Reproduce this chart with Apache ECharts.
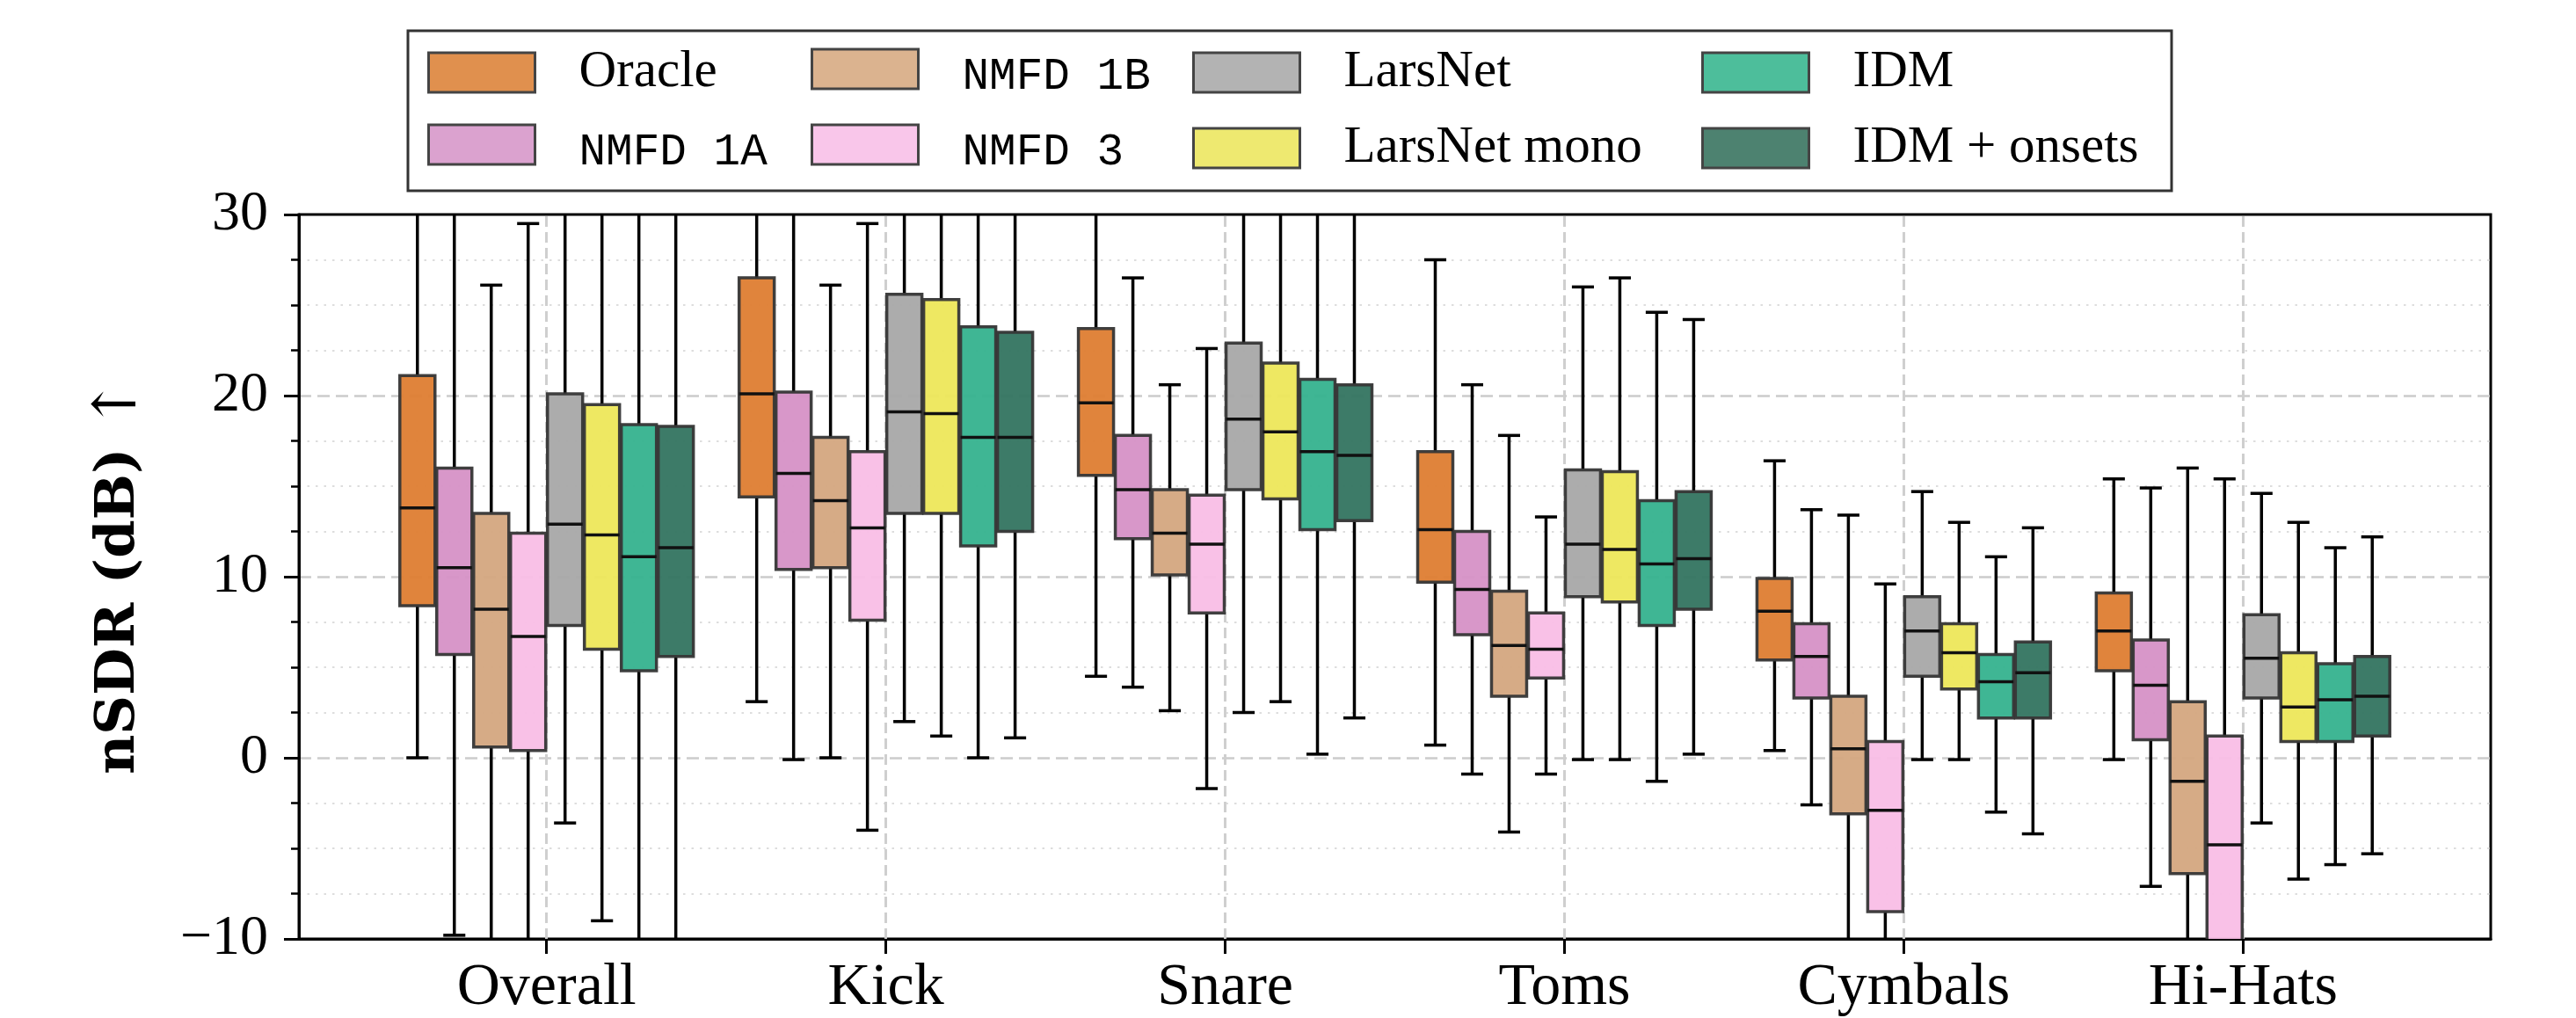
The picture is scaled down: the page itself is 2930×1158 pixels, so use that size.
<!DOCTYPE html>
<html>
<head>
<meta charset="utf-8">
<script src="https://cdn.jsdelivr.net/npm/echarts@6/dist/echarts.min.js"></script>
<style>
html,body{margin:0;padding:0;background:#fff;}
#main{width:2930px;height:1158px;}
</style>
</head>
<body>
<div id="main"></div>
<script>
// categories on the x axis
var categories = ['Overall', 'Kick', 'Snare', 'Toms', 'Cymbals', 'Hi-Hats'];
var methods = ['Oracle', 'NMFD 1A', 'NMFD 1B', 'NMFD 3', 'LarsNet', 'LarsNet mono', 'IDM', 'IDM + onsets'];
var monoNames = ['NMFD 1A', 'NMFD 1B', 'NMFD 3'];
var yTicks = [-10, 0, 10, 20, 30];

// each row: [lower whisker, Q1, median, Q3, upper whisker] (dB), one row per category
var oracle = [
	[0.0, 8.4, 13.8, 21.1, 34],
	[3.1, 14.4, 20.1, 26.5, 36],
	[4.5, 15.6, 19.6, 23.7, 33],
	[0.7, 9.7, 12.6, 16.9, 27.5],
	[0.4, 5.4, 8.1, 9.9, 16.4],
	[-0.1, 4.8, 7.0, 9.1, 15.4]
];
var nmfd1a = [
	[-9.8, 5.7, 10.5, 16.0, 36],
	[-0.1, 10.4, 15.7, 20.2, 35],
	[3.9, 12.1, 14.8, 17.8, 26.5],
	[-0.9, 6.8, 9.3, 12.5, 20.6],
	[-2.6, 3.3, 5.6, 7.4, 13.7],
	[-7.1, 1.0, 4.0, 6.5, 14.9]
];
var nmfd1b = [
	[-20, 0.6, 8.2, 13.5, 26.1],
	[0.0, 10.5, 14.2, 17.7, 26.1],
	[2.6, 10.1, 12.4, 14.8, 20.6],
	[-4.1, 3.4, 6.2, 9.2, 17.8],
	[-12, -3.1, 0.5, 3.4, 13.4],
	[-16, -6.4, -1.3, 3.1, 16.0]
];
var nmfd3 = [
	[-22, 0.4, 6.7, 12.4, 29.5],
	[-4.0, 7.6, 12.7, 16.9, 29.5],
	[-1.7, 8.0, 11.8, 14.5, 22.6],
	[-0.9, 4.4, 6.0, 8.0, 13.3],
	[-14, -8.5, -2.9, 0.9, 9.6],
	[-25, -13, -4.8, 1.2, 15.4]
];
var larsnet = [
	[-3.6, 7.3, 12.9, 20.1, 36],
	[2.0, 13.5, 19.1, 25.6, 38],
	[2.5, 14.8, 18.7, 22.9, 34],
	[-0.1, 8.9, 11.8, 15.9, 26.0],
	[-0.1, 4.5, 7.0, 8.9, 14.7],
	[-3.6, 3.3, 5.5, 7.9, 14.6]
];
var larsnetMono = [
	[-9.0, 6.0, 12.3, 19.5, 36],
	[1.2, 13.5, 19.0, 25.3, 38],
	[3.1, 14.3, 18.0, 21.8, 33],
	[-0.1, 8.6, 11.5, 15.8, 26.5],
	[-0.1, 3.8, 5.8, 7.4, 13.0],
	[-6.7, 0.9, 2.8, 5.8, 13.0]
];
var idm = [
	[-17, 4.8, 11.1, 18.4, 36],
	[0.0, 11.7, 17.7, 23.8, 36],
	[0.2, 12.6, 16.9, 20.9, 32],
	[-1.3, 7.3, 10.7, 14.2, 24.6],
	[-3.0, 2.2, 4.2, 5.7, 11.1],
	[-5.9, 0.9, 3.2, 5.2, 11.6]
];
var idmOnsets = [
	[-15, 5.6, 11.6, 18.3, 36],
	[1.1, 12.5, 17.7, 23.5, 36],
	[2.2, 13.1, 16.7, 20.6, 32],
	[0.2, 8.2, 11.0, 14.7, 24.2],
	[-4.2, 2.2, 4.7, 6.4, 12.7],
	[-5.3, 1.2, 3.4, 5.6, 12.2]
];
var allData = [oracle, nmfd1a, nmfd1b, nmfd3, larsnet, larsnetMono, idm, idmOnsets];

var boxColors = ['#DE7D32', '#D691C6', '#D4A67F', '#F9BEE6', '#A8A8A8', '#EDE75A', '#35B28E', '#337460'];
var legendColors = ['#E0904E', '#DBA2CF', '#DBB38F', '#F9C6EA', '#B3B3B3', '#EEE970', '#4DBE9B', '#4D8270'];

var SERIF = '"Liberation Serif", "DejaVu Serif", serif';
var MONO = '"Liberation Mono", "DejaVu Sans Mono", monospace';
var STEP = 0.1088;   // distance between boxes in one group
var BOX_W = 0.1036;
var CAP_W = 0.065;

function makeRender(idx){
	var offset = (idx - 3.5) * STEP;
	return function(params, api){
		var x = api.value(0) + offset;
		var low = api.coord([x, api.value(1)]);
		var q1 = api.coord([x, api.value(2)]);
		var med = api.coord([x, api.value(3)]);
		var q3 = api.coord([x, api.value(4)]);
		var high = api.coord([x, api.value(5)]);
		var bw = api.size([BOX_W, 0])[0];
		var cw = api.size([CAP_W, 0])[0];
		var cx = low[0];
		var wStyle = {stroke:'#000', lineWidth:3.5};
		return {
			type:'group',
			children:[
				{type:'line', shape:{x1:cx, y1:q1[1], x2:cx, y2:low[1]}, style:wStyle},
				{type:'line', shape:{x1:cx, y1:q3[1], x2:cx, y2:high[1]}, style:wStyle},
				{type:'line', shape:{x1:cx-cw/2, y1:low[1], x2:cx+cw/2, y2:low[1]}, style:wStyle},
				{type:'line', shape:{x1:cx-cw/2, y1:high[1], x2:cx+cw/2, y2:high[1]}, style:wStyle},
				{type:'rect', shape:{x:cx-bw/2, y:q3[1], width:bw, height:q1[1]-q3[1]},
					style:{fill:boxColors[idx], stroke:'#363636', lineWidth:3.5, opacity:0.95}},
				{type:'line', shape:{x1:cx-bw/2, y1:med[1], x2:cx+bw/2, y2:med[1]}, style:{stroke:'#111', lineWidth:3.5}}
			]
		};
	};
}

var series = [];
//竖向虚线 (vertical dashed grid at each category)
series.push({
	type:'line',
	data:[],
	silent:true,
	markLine:{
		z:1,
		silent:true,
		symbol:['none','none'],
		label:{show:false},
		lineStyle:{color:'#cfcfcf', type:[12,6], width:3},
		data:categories.map(function(c, i){ return {xAxis:i}; })
	}
});
for(var i=0;i<methods.length;i++){
	series.push({
		name:methods[i],
		type:'custom',
		z:2,
		clip:true,
		color:boxColors[i],
		renderItem:makeRender(i),
		encode:{x:0, y:[1,2,3,4,5]},
		data:allData[i].map(function(row, ci){ return [ci].concat(row); })
	});
}

// legend: 4 columns x 2 rows (column-major), one legend per entry
var colLefts = [486, 922, 1356, 1935];
var rowTops = [53, 139];
var legends = [];
for(var k=0;k<methods.length;k++){
	var isMono = monoNames.indexOf(methods[k]) >= 0;
	legends.push({
		left:colLefts[Math.floor(k/2)],
		top:rowTops[k%2] - (isMono ? 9 : 0),
		padding:0,
		itemWidth:121,
		itemHeight:45,
		icon:'rect',
		selectedMode:false,
		data:[{name:methods[k], itemStyle:{color:legendColors[k], borderColor:'#444', borderWidth:3}}],
		formatter:function(name){
			return monoNames.indexOf(name) >= 0 ? '{m|' + name + '}' : '{s|' + name + '}';
		},
		textStyle:{
			padding:[0,0,0,45],
			rich:{
				m:{fontFamily:MONO, fontSize:51, color:'#000', lineHeight:45, padding:[18,0,0,0]},
				s:{fontFamily:SERIF, fontSize:59, color:'#000', lineHeight:45}
			}
		}
	});
}

var chart = echarts.init(document.getElementById('main'));
var option = {
	backgroundColor:'#fff',
	animation:false,
	grid:{left:340, right:97, top:244, bottom:90, show:true, borderColor:'#000', borderWidth:3, backgroundColor:'transparent'},
	legend:legends,
	graphic:[{
		type:'rect',
		z:0,
		shape:{x:464, y:35, width:2006, height:182},
		style:{fill:'#fff', stroke:'#333', lineWidth:3}
	}],
	xAxis:{
		type:'value',
		min:-0.73,
		max:5.73,
		axisLine:{show:true, onZero:false, lineStyle:{color:'#000', width:3}},
		axisTick:{show:true, customValues:[0,1,2,3,4,5], length:17, lineStyle:{color:'#000', width:3}},
		axisLabel:{
			customValues:[0,1,2,3,4,5],
			margin:22,
			fontFamily:SERIF,
			fontSize:68,
			color:'#000',
			formatter:function(v){ return categories[Math.round(v)]; }
		},
		splitLine:{show:false}
	},
	yAxis:{
		type:'value',
		min:yTicks[0],
		max:yTicks[yTicks.length-1],
		interval:10,
		name:'{b|nSDR (dB)} {a|↑}',
		nameLocation:'middle',
		nameRotate:90,
		nameGap:170,
		nameTextStyle:{
			fontFamily:'DejaVu Serif',
			fontWeight:'bold',
			fontSize:62,
			rich:{
				b:{fontFamily:'DejaVu Serif', fontSize:62, fontWeight:'bold', color:'#000'},
				a:{fontFamily:'DejaVu Serif', fontSize:68, fontWeight:'normal', color:'#000'}
			}
		},
		axisLine:{show:true, onZero:false, lineStyle:{color:'#000', width:3}},
		axisTick:{show:true, length:17, lineStyle:{color:'#000', width:3}},
		minorTick:{show:true, splitNumber:4, length:9, lineStyle:{color:'#000', width:2.5}},
		axisLabel:{
			margin:35,
			fontFamily:SERIF,
			fontSize:64,
			color:'#000',
			formatter:function(v){ return v < 0 ? '\u2212' + Math.abs(v) : String(v); }
		},
		splitLine:{show:true, showMinLine:false, showMaxLine:false, lineStyle:{color:'#cccccc', type:[14,7], width:2.5}},
		minorSplitLine:{show:true, lineStyle:{color:'#dddddd', type:[2.5,7], width:2}}
	},
	series:series
};
chart.setOption(option);
</script>
</body>
</html>
